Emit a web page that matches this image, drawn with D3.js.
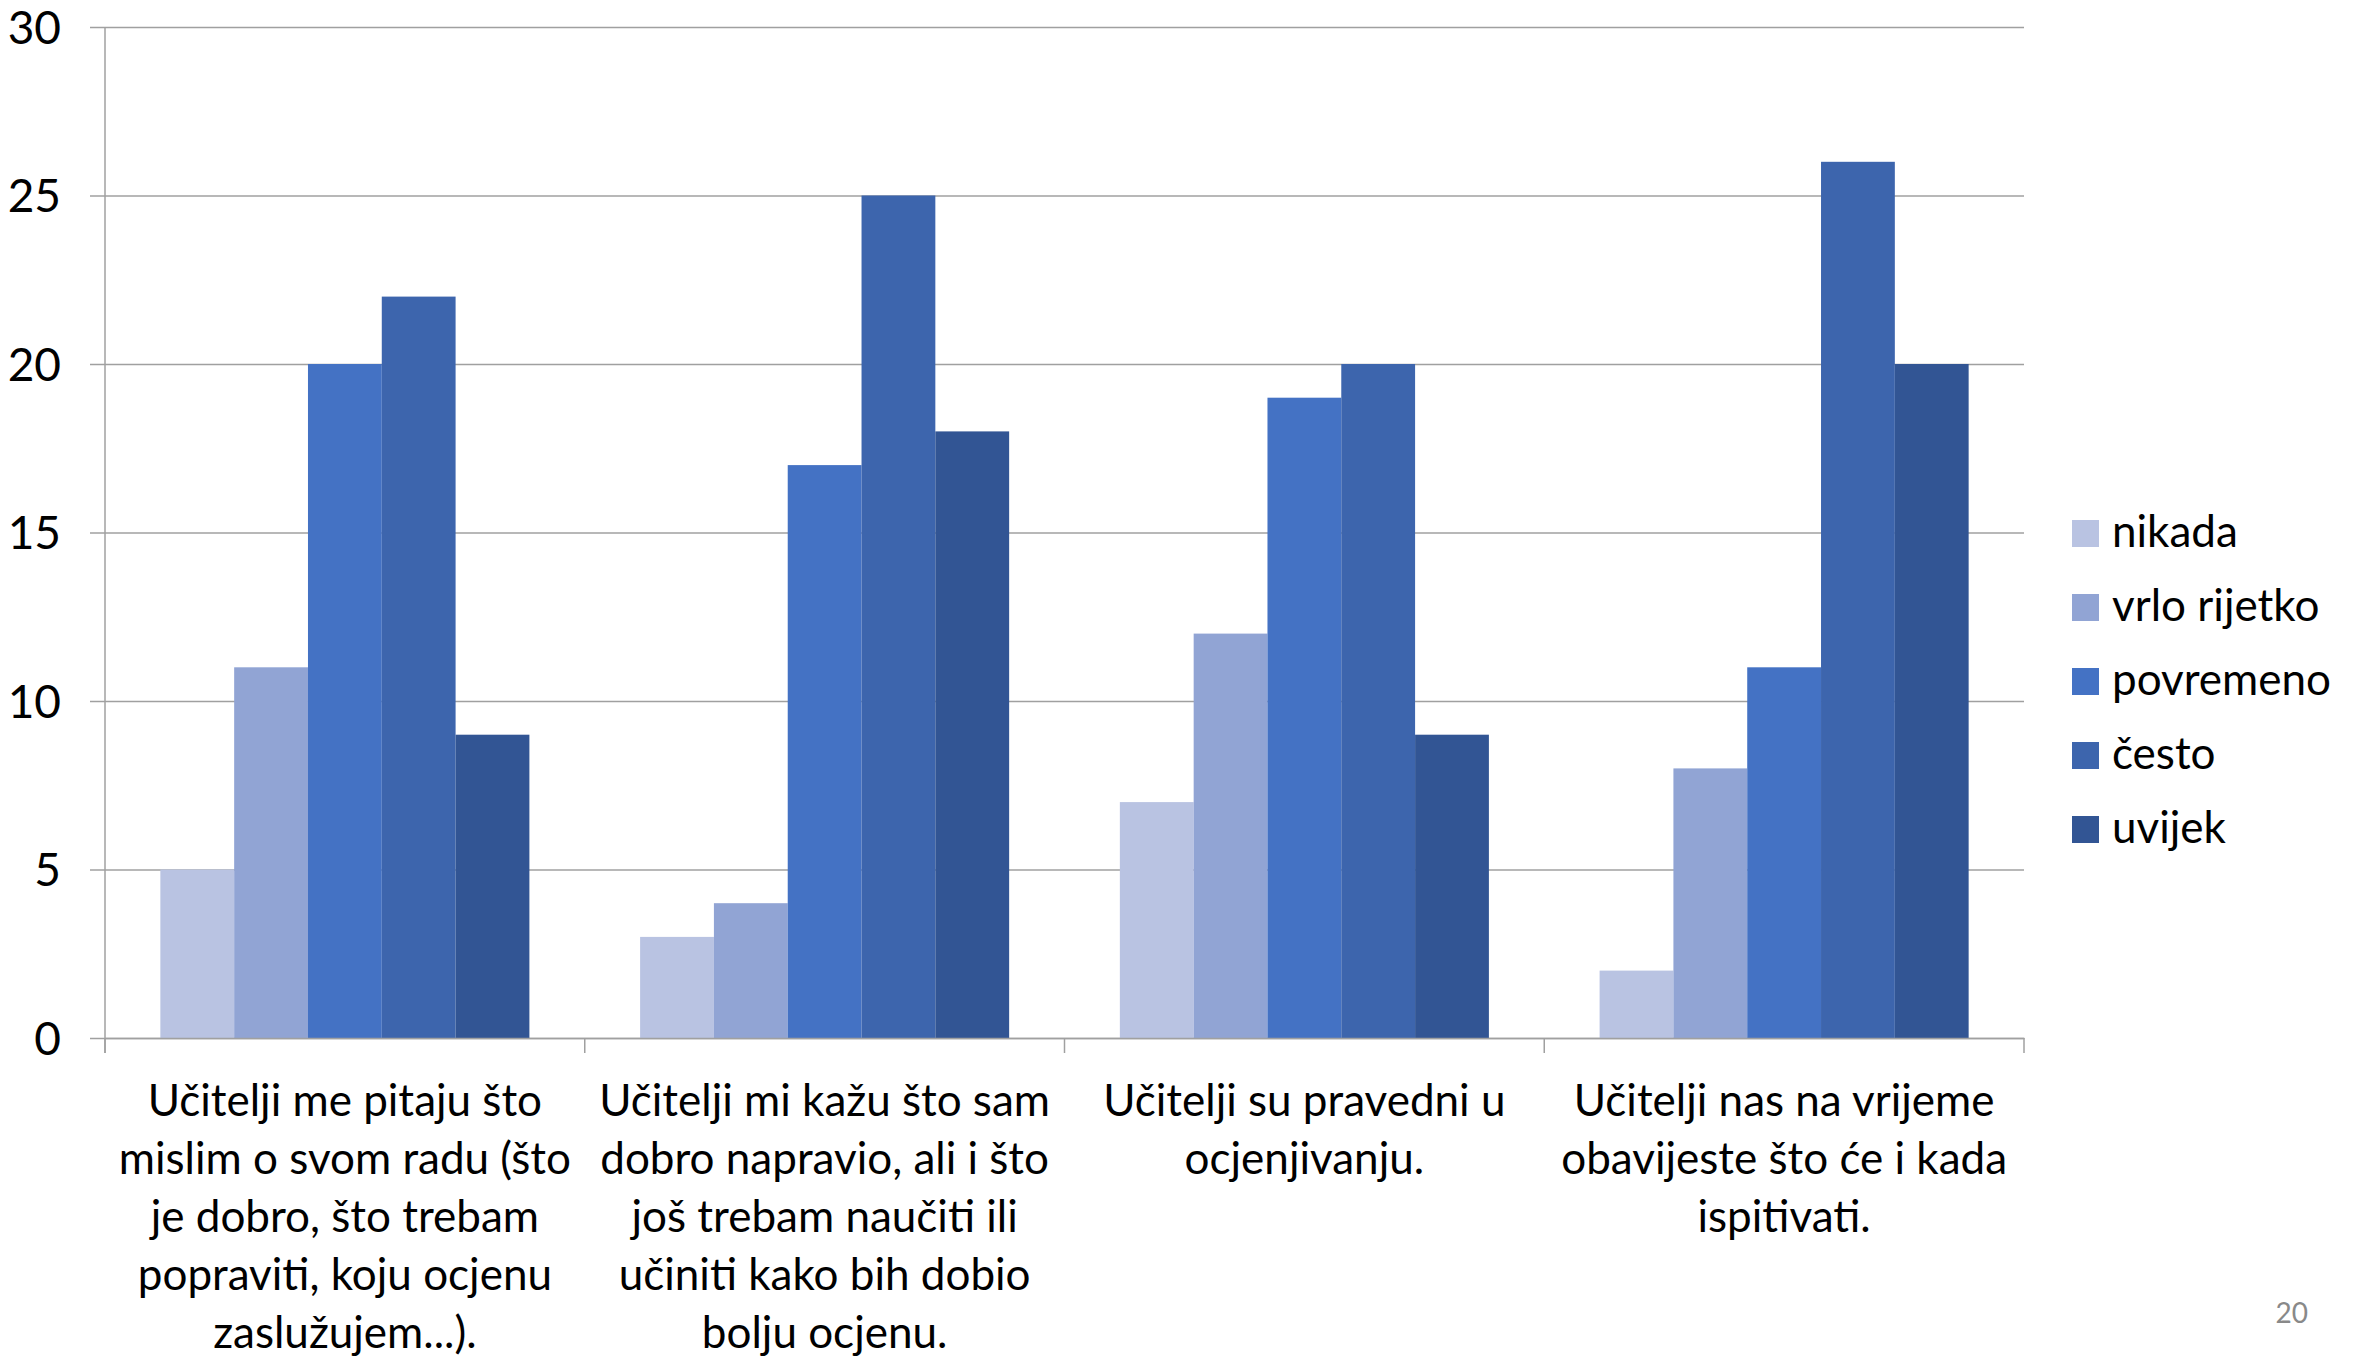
<!DOCTYPE html>
<html><head><meta charset="utf-8">
<script src="https://cdn.jsdelivr.net/npm/d3@7"></script>
<style>html,body{margin:0;padding:0;background:#fff;}</style>
</head><body>
<svg id="chart" width="2366" height="1357"></svg>
<script>
const categories = ["Q1","Q2","Q3","Q4"];
const categoryLabels = [
  ["Učitelji me pitaju što","mislim o svom radu (što","je dobro, što trebam","popraviti, koju ocjenu","zaslužujem...)."],
  ["Učitelji mi kažu što sam","dobro napravio, ali i što","još trebam naučiti ili","učiniti kako bih dobio","bolju ocjenu."],
  ["Učitelji su pravedni u","ocjenjivanju."],
  ["Učitelji nas na vrijeme","obavijeste što će i kada","ispitivati."]
];
const series = ["nikada","vrlo rijetko","povremeno","često","uvijek"];
const nikada = [5,3,7,2];
const vrloRijetko = [11,4,12,8];
const povremeno = [20,17,19,11];
const cesto = [22,25,20,26];
const uvijek = [9,18,9,20];
const yTicks = [0,5,10,15,20,25,30];
const colors = ["#B9C3E2","#91A4D4","#4472C4","#3D65AD","#325594"];
const pageNumber = "20";

(function(){
const values = [nikada, vrloRijetko, povremeno, cesto, uvijek];
const FONT = "Lato, 'Open Sans', sans-serif";
const svg = d3.select("#chart");
const pLeft = 105, pRight = 2024, pTop = 27, pBottom = 1038;

const x0 = d3.scaleBand().domain(categories).range([pLeft, pRight]).paddingInner(0).paddingOuter(0);
const x1 = d3.scaleBand().domain(series).range([0, x0.bandwidth()]).paddingInner(0).paddingOuter(0.75);
const y = d3.scaleLinear().domain([0,30]).range([pBottom, pTop]);
const color = d3.scaleOrdinal().domain(series).range(colors);

const yAxis = d3.axisLeft(y).tickValues(yTicks).tickSize(-(pRight-pLeft)).tickSizeOuter(0).tickPadding(0);
const gy = svg.append("g").attr("transform", `translate(${pLeft},0)`).call(yAxis);
gy.select(".domain").remove();
gy.selectAll(".tick line").attr("stroke","#A0A0A0").attr("stroke-width",1.5).attr("x1",-15);
gy.selectAll(".tick text").attr("x",-44).attr("font-family",FONT).attr("font-size",46).attr("fill","#000").attr("dy","0.35em");

const g = svg.append("g");
categories.forEach((c, ci) => {
  series.forEach((s, si) => {
    const v = values[si][ci];
    g.append("rect")
      .attr("x", x0(c) + x1(s))
      .attr("y", y(v))
      .attr("width", x1.bandwidth())
      .attr("height", y(0) - y(v))
      .attr("fill", color(s));
  });
});

svg.append("line").attr("x1",pLeft).attr("x2",pLeft).attr("y1",pTop).attr("y2",pBottom+15).attr("stroke","#A0A0A0").attr("stroke-width",1.5);
const xAxis = d3.axisBottom(x0).tickSize(0).tickFormat("");
const gx = svg.append("g").attr("transform",`translate(0,${pBottom})`).call(xAxis);
gx.select(".domain").attr("stroke","#A0A0A0").attr("stroke-width",1.5);
const bounds = categories.map(c => x0(c)).concat([pRight]);
svg.selectAll(".xt").data(bounds).enter().append("line")
  .attr("x1",d=>d).attr("x2",d=>d).attr("y1",pBottom).attr("y2",pBottom+15)
  .attr("stroke","#A0A0A0").attr("stroke-width",1.5);

categories.forEach((c, ci) => {
  const t = svg.append("text").attr("text-anchor","middle")
    .attr("font-family",FONT).attr("font-size",44).attr("fill","#000");
  categoryLabels[ci].forEach((line, li) => {
    t.append("tspan").attr("x", x0(c) + x0.bandwidth()/2).attr("y", 1116 + li*58).text(line);
  });
});

const lg = svg.append("g");
series.forEach((s, i) => {
  lg.append("rect").attr("x",2072).attr("y",520 + i*74).attr("width",27).attr("height",27).attr("fill",color(s));
  lg.append("text").attr("x",2112).attr("y",547 + i*74).attr("font-family",FONT).attr("font-size",44).attr("fill","#000").text(s);
});

svg.append("text").attr("x",2308).attr("y",1323).attr("text-anchor","end").attr("font-family",FONT).attr("font-size",28).attr("fill","#898989").text(pageNumber);
})();
</script>
</body></html>
